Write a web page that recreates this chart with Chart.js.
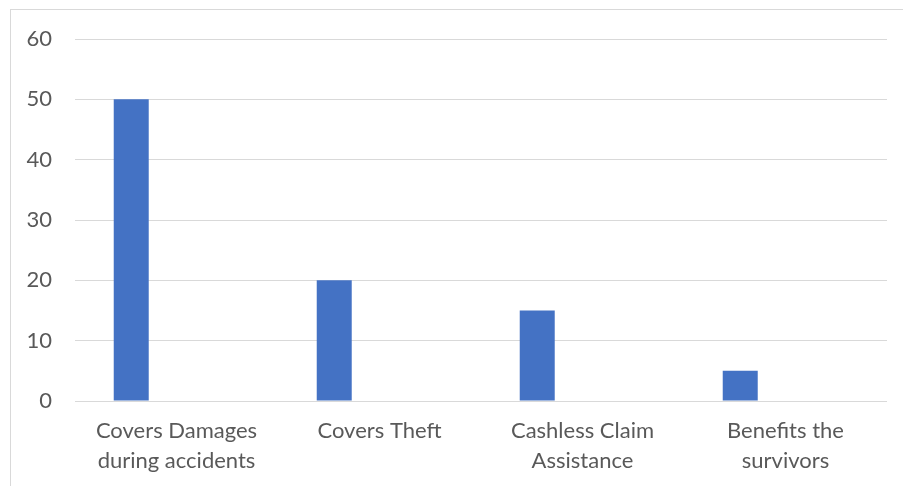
<!DOCTYPE html>
<html>
<head>
<meta charset="utf-8">
<script src="https://cdn.jsdelivr.net/npm/chart.js@4"></script>
<style>
html,body{margin:0;padding:0;background:#fff;}
#wrap{width:903px;height:486px;position:relative;}
</style>
</head>
<body>
<div id="wrap"><canvas id="c" width="903" height="486"></canvas></div>
<script>
const categories = [["Covers Damages","during accidents"],"Covers Theft",["Cashless Claim","Assistance"],["Benefits the","survivors"]];
const series1 = [50, 20, 15, 5];
const series2 = [null, null, null, null];
const series3 = [null, null, null, null];
const yTicks = [0, 10, 20, 30, 40, 50, 60];

const frame = {
  id: 'frame',
  beforeDraw(chart) {
    const ctx = chart.ctx;
    ctx.save();
    ctx.fillStyle = '#ffffff';
    ctx.fillRect(0, 0, chart.width, chart.height);
    ctx.strokeStyle = '#d9d9d9';
    ctx.lineWidth = 1;
    ctx.strokeRect(10.5, 9.5, 2000, 2000);
    ctx.restore();
  }
};

new Chart(document.getElementById('c'), {
  type: 'bar',
  data: {
    labels: categories,
    datasets: [
      { label: 'Series 1', data: series1, backgroundColor: '#4472C4', categoryPercentage: 0.669, barPercentage: 0.773 },
      { label: 'Series 2', data: series2, backgroundColor: '#ED7D31', categoryPercentage: 0.669, barPercentage: 0.773 },
      { label: 'Series 3', data: series3, backgroundColor: '#A5A5A5', categoryPercentage: 0.669, barPercentage: 0.773 }
    ]
  },
  options: {
    responsive: false,
    animation: false,
    devicePixelRatio: 1,
    layout: { padding: { left: 0, right: 16, top: 39, bottom: 0 } },
    plugins: { legend: { display: false }, tooltip: { enabled: false } },
    scales: {
      x: {
        grid: { display: false, drawTicks: false },
        border: { display: false },
        ticks: { color: '#595959', font: { family: 'Lato', size: 22, lineHeight: 1.36 }, padding: 15, maxRotation: 0, autoSkip: false },
        afterFit(s) { s.height = 85; }
      },
      y: {
        min: 0, max: 60,
        afterBuildTicks(s) { s.ticks = yTicks.map(v => ({ value: v })); },
        grid: { color: '#d9d9d9', lineWidth: 1, drawTicks: false },
        border: { display: false },
        ticks: { color: '#595959', font: { family: 'Lato', size: 22 }, padding: 23 },
        afterFit(s) { s.width = 75; }
      }
    }
  },
  plugins: [frame]
});
</script>
</body>
</html>
